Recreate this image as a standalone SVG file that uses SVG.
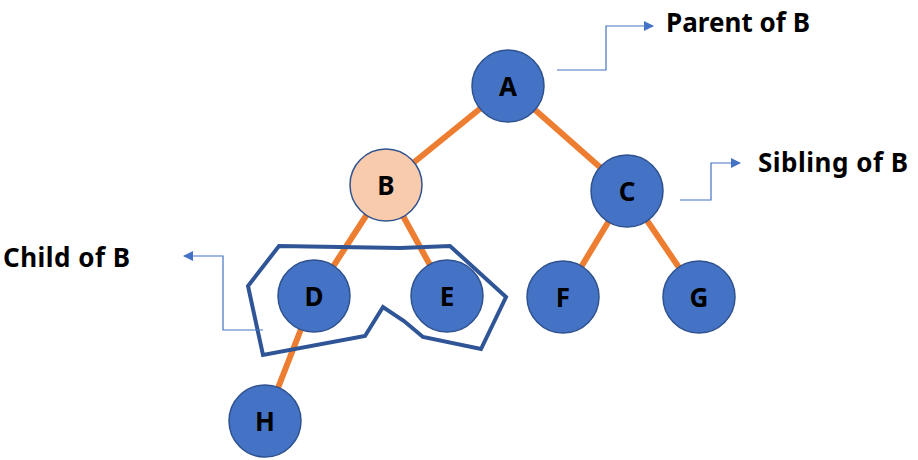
<svg xmlns="http://www.w3.org/2000/svg" width="918" height="460" viewBox="0 0 918 460">
<style>
.n{fill:#4472C4;stroke:#2F528F;stroke-width:1.5}
.nb{fill:#F8CBAD;stroke:#2F528F;stroke-width:1.5}
.t{font-family:"Noto Sans","Open Sans",sans-serif;font-weight:bold;font-size:26px;fill:#000;text-anchor:middle}
.lab{font-family:"Noto Sans","Open Sans",sans-serif;font-weight:bold;font-size:26px;fill:#000}
.e{stroke:#ED7D31;stroke-width:6;fill:none}
.c{stroke:#4472C4;stroke-width:1.2;fill:none;marker-end:url(#ar)}
</style>
<defs>
<marker id="ar" viewBox="0 0 10 10" refX="9" refY="5" markerWidth="10" markerHeight="10" markerUnits="userSpaceOnUse" orient="auto">
<path d="M0,0 L10,5 L0,10 z" fill="#4472C4"/>
</marker>
</defs>
<g id="edges">
<line class="e" x1="508" y1="86" x2="386" y2="185"/>
<line class="e" x1="508" y1="86" x2="627" y2="191"/>
<line class="e" x1="386" y1="185" x2="314" y2="296"/>
<line class="e" x1="386" y1="185" x2="447" y2="296"/>
<line class="e" x1="627" y1="191" x2="563" y2="297"/>
<line class="e" x1="627" y1="191" x2="699" y2="297"/>
<line class="e" x1="314" y1="296" x2="265" y2="421"/>
</g>
<g id="group-outline">
<polygon points="279,246 400,248 450,246 506,297 481,349 423,337 404,321 383,307 365,336 263,355 248,286" fill="none" stroke="#2F5597" stroke-width="4" stroke-linejoin="miter"/>
</g>
<g id="connectors">
<polyline class="c" points="557,70 606,70 606,26 653,26"/>
<polyline class="c" points="680,200 711,200 711,163 740,163"/>
<polyline class="c" points="263,330 223,330 223,256 184,256"/>
</g>
<g id="node-A"><circle class="n" cx="508" cy="86" r="36"/><text class="t" x="508" y="96">A</text></g>
<g id="node-B"><circle class="nb" cx="386" cy="185" r="36"/><text class="t" x="386" y="195">B</text></g>
<g id="node-C"><circle class="n" cx="627" cy="191" r="36"/><text class="t" x="627" y="201">C</text></g>
<g id="node-D"><circle class="n" cx="314" cy="296" r="36"/><text class="t" x="314" y="306">D</text></g>
<g id="node-E"><circle class="n" cx="447" cy="296" r="36"/><text class="t" x="447" y="306">E</text></g>
<g id="node-F"><circle class="n" cx="563" cy="297" r="36"/><text class="t" x="563" y="307">F</text></g>
<g id="node-G"><circle class="n" cx="699" cy="297" r="36"/><text class="t" x="699" y="307">G</text></g>
<g id="node-H"><circle class="n" cx="265" cy="421" r="36"/><text class="t" x="265" y="431">H</text></g>
<g id="labels">
<text class="lab" x="666" y="32" textLength="144" lengthAdjust="spacing">Parent of B</text>
<text class="lab" x="758" y="172" textLength="150" lengthAdjust="spacing">Sibling of B</text>
<text class="lab" x="3" y="267" textLength="127" lengthAdjust="spacing">Child of B</text>
</g>
</svg>
